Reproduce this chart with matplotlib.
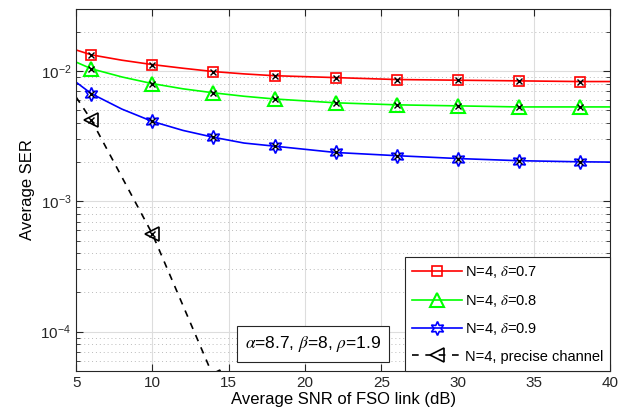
import numpy as np
import matplotlib
matplotlib.use("Agg")
import matplotlib.pyplot as plt
from matplotlib.ticker import LogLocator, NullFormatter

plt.rcParams['font.family'] = ['Liberation Sans', 'DejaVu Sans']
plt.rcParams['mathtext.fontset'] = 'stix'

# ---------------- data
snr = [5, 6, 8, 10, 12, 14, 16, 18, 22, 26, 30, 34, 38, 40]
ser_d07 = [0.0145, 0.0133, 0.0121, 0.0112, 0.0105, 0.0099, 0.0095, 0.0092,
           0.0089, 0.0086, 0.0085, 0.0084, 0.0083, 0.0083]
ser_d08 = [0.0117, 0.0104, 0.0090, 0.0080, 0.0073, 0.0068, 0.0064, 0.0061,
           0.0057, 0.0055, 0.0054, 0.0053, 0.0053, 0.0053]
ser_d09 = [0.0082, 0.0067, 0.0051, 0.0041, 0.0035, 0.0031, 0.0028, 0.00265,
           0.00237, 0.00224, 0.00213, 0.00205, 0.00201, 0.00200]
snr_p = [5, 6, 10, 14]
ser_precise = [0.0063, 0.0042, 0.00056, 0.000045]

mark_idx = [1, 3, 5, 7, 8, 9, 10, 11, 12]   # markers at 6,10,...,38
mark_idx_p = [1, 2, 3]

labels = ['N=4, $\\delta$=0.7', 'N=4, $\\delta$=0.8', 'N=4, $\\delta$=0.9',
          'N=4, precise channel']

fig = plt.figure(figsize=(6.24, 4.2), dpi=100)
ax = fig.add_axes([0.122, 0.117, 0.856, 0.862])

ax.semilogy(snr, ser_d07, 'r-', marker='s', markevery=mark_idx, ms=7.5,
            mfc='none', mew=1.2, lw=1.2, label=labels[0])
ax.semilogy(snr, ser_d08, '-', color='#00ff00', marker='^', markevery=mark_idx,
            ms=10, mfc='none', mew=1.5, lw=1.2, label=labels[1])
ax.semilogy(snr, ser_d09, 'b-', marker=(6, 1, 0), markevery=mark_idx, ms=10,
            mfc='none', mew=1.2, lw=1.2, label=labels[2])
ax.semilogy(snr_p, ser_precise, 'k--', marker='<', markevery=mark_idx_p, ms=10,
            mfc='none', mew=1.2, lw=1.2, dashes=(4, 4), label=labels[3])

# simulation points (small black crosses)
for ys in (ser_d07, ser_d08, ser_d09):
    ax.semilogy([snr[i] for i in mark_idx], [ys[i] for i in mark_idx],
                'kx', ms=4, mew=1)
ax.semilogy([snr_p[i] for i in mark_idx_p], [ser_precise[i] for i in mark_idx_p],
            'kx', ms=4, mew=1)

ax.set_xlim(5, 40)
ax.set_ylim(5e-5, 3e-2)
ax.set_xticks(range(5, 41, 5))
ax.yaxis.set_major_locator(LogLocator(base=10))
ax.yaxis.set_minor_locator(LogLocator(base=10, subs=np.arange(2, 10)))
ax.yaxis.set_minor_formatter(NullFormatter())

ax.grid(True, which='major', color='#dddddd', lw=0.8, ls='-')
ax.grid(True, which='minor', axis='y', color='#bbbbbb', lw=0.7, ls=(0, (1, 3)))
ax.set_axisbelow(True)
ax.tick_params(which='both', direction='in', top=True, right=True,
               labelsize=11, colors='#262626')
ax.tick_params(which='major', length=5)
ax.tick_params(which='minor', length=3)
for s in ax.spines.values():
    s.set_color('#262626')
    s.set_linewidth(0.8)

ax.set_xlabel('Average SNR of FSO link (dB)', fontsize=12, labelpad=2)
ax.set_ylabel('Average SER', fontsize=12)

leg = ax.legend(loc='lower right', fontsize=10.5, frameon=True, fancybox=False,
                edgecolor='#262626', framealpha=1, borderaxespad=0,
                handlelength=3.4, labelspacing=0.85, handletextpad=0.2,
                borderpad=0.5)
leg.get_frame().set_linewidth(0.8)

ax.text(0.444, 0.074, '$\\alpha$=8.7, $\\beta$=8, $\\rho$=1.9', transform=ax.transAxes,
        ha='center', va='center', fontsize=12.5,
        bbox=dict(boxstyle='square,pad=0.45', fc='white', ec='#262626', lw=0.8))

fig.savefig('out.png', dpi=100)
